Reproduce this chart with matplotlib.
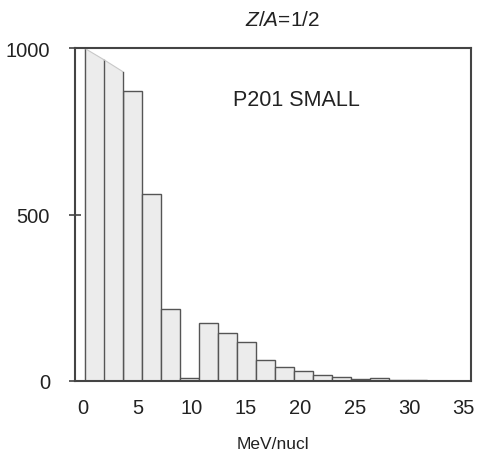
import numpy as np
import matplotlib
matplotlib.use("Agg")
import matplotlib.pyplot as plt

plt.rcParams["font.family"] = ["Liberation Sans", "DejaVu Sans"]
plt.rcParams["mathtext.fontset"] = "custom"
plt.rcParams["mathtext.it"] = "Liberation Sans:italic"
plt.rcParams["mathtext.rm"] = "Liberation Sans"

# histogram of counts per energy bin (MeV/nucl)
bin_start = 0.15
bin_width = 1.75
counts = [983, 948, 871, 562, 216, 8, 174, 145, 118, 62, 42, 29, 19, 13, 5, 10, 4, 3]
# the two lowest bins run off the scale: their tops are drawn sloped
slope_tops = [1000, 966, 930]

x_ticks = [0, 5, 10, 15, 20, 25, 30, 35]
y_ticks = [0, 500, 1000]

fill = "#ececec"
edge = "#555555"
frame = "#444444"
text_col = "#222222"

fig = plt.figure(figsize=(4.79, 4.56), dpi=100)
ax = fig.add_axes([0.1566, 0.1623, 0.8267, 0.7296])

lefts = bin_start + bin_width * np.arange(len(counts))

# regular bars
n_slope = len(slope_tops) - 1
ax.bar(lefts[n_slope:], counts[n_slope:], width=bin_width, align="edge",
       color=fill, edgecolor=edge, linewidth=1.0, zorder=2)

# sloped bars
for i in range(n_slope):
    x0, x1 = lefts[i], lefts[i] + bin_width
    y0, y1 = slope_tops[i], slope_tops[i + 1]
    ax.fill([x0, x1, x1, x0], [0, 0, y1, y0], color=fill, linewidth=0, zorder=2)
    ax.plot([x0, x0], [0, y0], color=edge, linewidth=1.0, zorder=3)
    ax.plot([x0, x1], [y0, y1], color="#c8c8c8", linewidth=0.8, zorder=3)
ax.plot([lefts[n_slope], lefts[n_slope]], [0, slope_tops[-1]], color=edge,
        linewidth=1.0, zorder=3)

ax.set_xlim(-0.74, 35.7)
ax.set_ylim(0, 1000)
ax.set_xticks(x_ticks)
ax.set_yticks(y_ticks)
ax.tick_params(axis="x", length=0, pad=12, labelsize=14.5, colors=text_col)
ax.tick_params(axis="y", direction="inout", length=8, width=1.2, pad=14,
               labelsize=14.5, colors=text_col)
ax.tick_params(axis="y", color=frame)

for spine in ax.spines.values():
    spine.set_color(frame)
    spine.set_linewidth(1.5)
    spine.set_zorder(4)

ax.set_xlabel("MeV/nucl", fontsize=12.5, color=text_col, labelpad=14)
ax.text(0.56, 0.845, "P201 SMALL", transform=ax.transAxes, ha="center",
        va="center", fontsize=15.5, color=text_col)
fig.text(282.5 / 479, 1 - 21 / 456, r"$Z/A$=1/2", ha="center", va="center",
         fontsize=15, color=text_col)

fig.savefig("out.png", dpi=100)
